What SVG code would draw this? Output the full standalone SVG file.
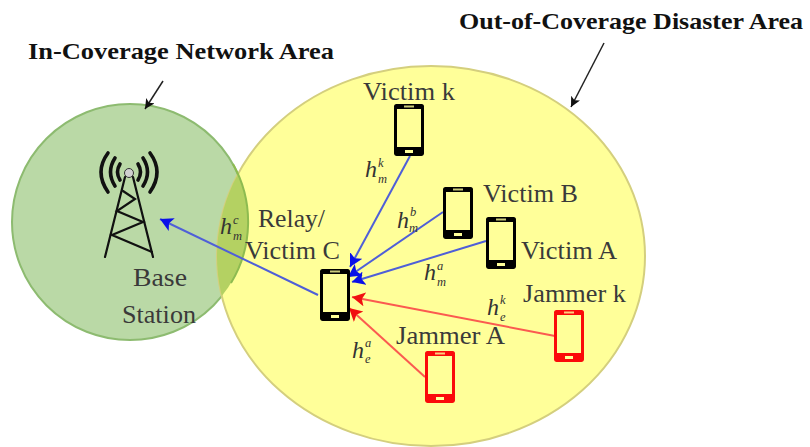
<svg xmlns="http://www.w3.org/2000/svg" width="810" height="447" viewBox="0 0 810 447">
<style>
text{font-family:"Liberation Serif",serif;fill:#333}
.t{font-size:25px;fill:#3a3a3a}
.b{font-size:24px;font-weight:bold;fill:#111}
.h{font-size:24px;font-style:italic}
.s{font-size:12.5px;font-style:italic}
.blue{stroke:#4f5fd8;stroke-width:2;fill:none;marker-end:url(#ab)}
.red{stroke:#fb5a50;stroke-width:2;fill:none;marker-end:url(#ar)}
.k{stroke:#222;stroke-width:1.5;fill:none;marker-end:url(#ak)}
.tw{stroke:#111;stroke-width:2.2;fill:none;stroke-linecap:round}
.wave{stroke:#111;stroke-width:3.6;fill:none;stroke-linecap:round}
</style>
<defs>
<marker id="ab" markerUnits="userSpaceOnUse" markerWidth="16" markerHeight="16" refX="13" refY="7" orient="auto"><path d="M0 0L13 7L0 14L3 7Z" fill="#0a10e8"/></marker>
<marker id="ar" markerUnits="userSpaceOnUse" markerWidth="16" markerHeight="16" refX="13" refY="7" orient="auto"><path d="M0 0L13 7L0 14L3 7Z" fill="#f01010"/></marker>
<marker id="ak" markerUnits="userSpaceOnUse" markerWidth="12" markerHeight="12" refX="10" refY="5" orient="auto"><path d="M0 0L10 5L0 10L2.5 5Z" fill="#111"/></marker>
<clipPath id="gc"><circle cx="130" cy="222" r="118"/></clipPath>
<g id="phone">
<rect x="1.5" y="1.5" width="27" height="49" rx="3" fill="#ffff99" stroke="currentColor" stroke-width="3"/>
<rect x="0" y="43" width="30" height="9" rx="3" fill="currentColor"/>
<rect x="0" y="0" width="30" height="5" rx="2.5" fill="currentColor"/>
<rect x="10" y="1.5" width="10" height="2" fill="#ffff99" opacity=".8"/>
<rect x="11" y="46" width="8" height="3" fill="#ffff99"/>
</g>
</defs>
<rect width="810" height="447" fill="#fff"/>
<g id="coverage-area"><circle cx="130" cy="222" r="118" fill="#bad9a6" stroke="#8dbb70" stroke-width="2"/></g>
<g id="disaster-area"><ellipse cx="431" cy="256" rx="214" ry="190" fill="#ffff99" stroke="#d4cf7e" stroke-width="2"/>
<ellipse cx="431" cy="256" rx="214" ry="190" fill="#b4d162" clip-path="url(#gc)"/>
<path d="M233 164A118 118 0 0 1 231 283" fill="none" stroke="#8dbb50" stroke-width="2"/></g>

<g id="connectors">
<path class="blue" d="M318 295L160 219"/>
<path class="blue" d="M410 156L350 267"/>
<path class="blue" d="M443 212L348 277"/>
<path class="blue" d="M486 241L352 282"/>
<path class="red" d="M555 336L352 297"/>
<path class="red" d="M425 377L349 308"/>
<path class="k" d="M163 81L145 109"/>
<path class="k" d="M604 43L571 107"/>
</g>

<g id="base-station">
<path class="wave" d="M120 164Q115 172 120 180M115 158Q106 172 115 186M108 153Q94 172 108 192"/>
<path class="wave" d="M138 164Q143 172 138 180M143 158Q152 172 143 186M150 153Q164 172 150 192"/>
<circle cx="129" cy="173" r="4.5" fill="#d0d0d0" stroke="#333" stroke-width="1"/>
<path class="tw" d="M125 177L105 257M133 177L153 257"/>
<path class="tw" d="M123 191L135 199L117 211L143 222L112 235L152 252"/>
<text class="t" x="133" y="286" textLength="54" lengthAdjust="spacingAndGlyphs">Base</text>
<text class="t" x="122" y="323" textLength="74" lengthAdjust="spacingAndGlyphs">Station</text>
</g>
<g id="relay" color="#000"><use href="#phone" x="320" y="269"/>
<text class="t" x="258" y="227" textLength="67" lengthAdjust="spacingAndGlyphs">Relay/</text><text class="t" x="245" y="259" textLength="95" lengthAdjust="spacingAndGlyphs">Victim C</text></g>
<g id="victim-k" color="#000"><use href="#phone" x="394" y="104"/><text class="t" x="363" y="100" textLength="92" lengthAdjust="spacingAndGlyphs">Victim k</text></g>
<g id="victim-b" color="#000"><use href="#phone" x="443" y="187"/><text class="t" x="483" y="202" textLength="95" lengthAdjust="spacingAndGlyphs">Victim B</text></g>
<g id="victim-a" color="#000"><use href="#phone" x="486" y="217"/><text class="t" x="521" y="259" textLength="96" lengthAdjust="spacingAndGlyphs">Victim A</text></g>
<g id="jammer-k" color="#fb0a0a"><use href="#phone" x="554" y="310"/><text class="t" x="523" y="302" textLength="103" lengthAdjust="spacingAndGlyphs">Jammer k</text></g>
<g id="jammer-a" color="#fb0a0a"><use href="#phone" x="425" y="351"/><text class="t" x="396" y="344" textLength="109" lengthAdjust="spacingAndGlyphs">Jammer A</text></g>

<g id="labels">
<text class="h" x="365" y="177">h</text><text class="s" x="378" y="167">k</text><text class="s" x="378" y="183">m</text>
<text class="h" x="397" y="228">h</text><text class="s" x="410" y="216">b</text><text class="s" x="409" y="232">m</text>
<text class="h" x="424" y="280">h</text><text class="s" x="437" y="270">a</text><text class="s" x="437" y="286">m</text>
<text class="h" x="487" y="315">h</text><text class="s" x="500" y="304">k</text><text class="s" x="500" y="321">e</text>
<text class="h" x="352" y="358">h</text><text class="s" x="365" y="347">a</text><text class="s" x="365" y="363">e</text>
<text class="h" x="220" y="234">h</text><text class="s" x="233" y="224">c</text><text class="s" x="233" y="240">m</text>
<text class="b" x="28" y="59" textLength="306" lengthAdjust="spacingAndGlyphs">In-Coverage Network Area</text>
<text class="b" x="459" y="29" textLength="344" lengthAdjust="spacingAndGlyphs">Out-of-Coverage Disaster Area</text>
</g>
</svg>
